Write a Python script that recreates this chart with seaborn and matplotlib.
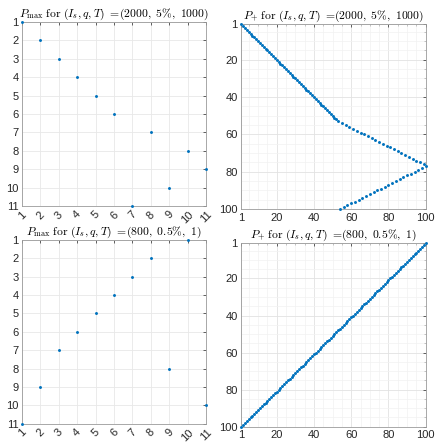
import numpy as np
import pandas as pd
import matplotlib
matplotlib.use("Agg")
import matplotlib.pyplot as plt
from matplotlib.ticker import MultipleLocator, FixedLocator
import seaborn as sns

# ---------------- data ----------------
small_idx = [1, 2, 3, 4, 5, 6, 7, 8, 9, 10, 11]
pmax_a = [1, 2, 3, 4, 5, 6, 11, 7, 10, 8, 9]       # (2000, 5%, 1000)
pmax_b = [11, 9, 7, 6, 5, 4, 3, 2, 8, 1, 10]       # (800, 0.5%, 1)

big_rows = [1, 2, 3, 4, 5, 6, 7, 8, 9, 10, 11, 12, 13, 14, 15, 16, 17, 18, 19, 20,
            21, 22, 23, 24, 25, 26, 27, 28, 29, 30, 31, 32, 33, 34, 35, 36, 37, 38, 39, 40,
            41, 42, 43, 44, 45, 46, 47, 48, 49, 50, 51, 52, 53, 54, 55, 56, 57, 58, 59, 60,
            61, 62, 63, 64, 65, 66, 67, 68, 69, 70, 71, 72, 73, 74, 75, 76, 77, 78, 79, 80,
            81, 82, 83, 84, 85, 86, 87, 88, 89, 90, 91, 92, 93, 94, 95, 96, 97, 98, 99, 100]
pplus_a = [1, 2, 3, 4, 5, 6, 7, 8, 9, 10, 11, 12, 13, 14, 15, 16, 17, 18, 19, 20,
           21, 22, 23, 24, 25, 26, 27, 28, 29, 30, 31, 32, 33, 34, 35, 36, 37, 38, 39, 40,
           41, 42, 43, 44, 45, 46, 47, 48, 49, 50, 51, 52, 53,
           55, 57, 59, 61, 63, 65, 67, 69, 71, 73, 75, 77, 79, 81, 83, 85, 87, 89, 91, 93,
           95, 97, 99, 100,
           98, 96, 94, 92, 90, 88, 86, 84, 82, 80, 78, 76, 74, 72, 70, 68, 66, 64, 62, 60,
           58, 56, 54]
pplus_b = [100, 99, 98, 97, 96, 95, 94, 93, 92, 91, 90, 89, 88, 87, 86, 85, 84, 83, 82, 81,
           80, 79, 78, 77, 76, 75, 74, 73, 72, 71, 70, 69, 68, 67, 66, 65, 64, 63, 62, 61,
           60, 59, 58, 57, 56, 55, 54, 53, 52, 51, 50, 49, 48, 47, 46, 45, 44, 43, 42, 41,
           40, 39, 38, 37, 36, 35, 34, 33, 32, 31, 30, 29, 28, 27, 26, 25, 24, 23, 22, 21,
           20, 19, 18, 17, 16, 15, 14, 13, 12, 11, 10, 9, 8, 7, 6, 5, 4, 3, 2, 1]

small_ticks = [1, 2, 3, 4, 5, 6, 7, 8, 9, 10, 11]
big_ticks = [1, 20, 40, 60, 80, 100]

titles = [r"$P_{\max}\ \mathrm{for}\ (I_s,q,T)\ =\!(2000,\ 5\%,\ 1000)$",
          r"$P_{+}\ \mathrm{for}\ (I_s,q,T)\ =\!(2000,\ 5\%,\ 1000)$",
          r"$P_{\max}\ \mathrm{for}\ (I_s,q,T)\ =\!(800,\ 0.5\%,\ 1)$",
          r"$P_{+}\ \mathrm{for}\ (I_s,q,T)\ =\!(800,\ 0.5\%,\ 1)$"]

# ---------------- style ----------------
sns.set_style("white")
plt.rcParams['font.family'] = ['Liberation Sans', 'DejaVu Sans']
plt.rcParams['mathtext.fontset'] = 'cm'

BLUE = "#0072BD"
SPINE = "#9a9a9a"

fig = plt.figure(figsize=(4.36, 4.42), dpi=100)
positions = [
    [0.0505, 0.534, 0.422, 0.416],
    [0.5534, 0.527, 0.423, 0.418],
    [0.0505, 0.0414, 0.422, 0.4156],
    [0.5534, 0.0346, 0.423, 0.415],
]

datasets = [
    (small_idx, pmax_a, 'small'),
    (pplus_a, big_rows, 'big'),
    (small_idx, pmax_b, 'small'),
    (pplus_b, big_rows, 'big'),
]

for pos, (xs, ys, kind), title in zip(positions, datasets, titles):
    ax = fig.add_axes(pos)
    df = pd.DataFrame({"x": xs, "y": ys})
    sns.scatterplot(data=df, x="x", y="y", ax=ax, color=BLUE, s=4.5,
                    marker='o', linewidth=0, clip_on=False, zorder=3)
    ax.set_xlabel("")
    ax.set_ylabel("")
    if kind == 'small':
        ax.set_xlim(1, 11)
        ax.set_ylim(11, 1)
        ax.xaxis.set_major_locator(FixedLocator(small_ticks))
        ax.yaxis.set_major_locator(FixedLocator(small_ticks))
        ax.set_xticklabels([str(t) for t in small_ticks], rotation=45, ha='center')
        ax.set_yticklabels([str(t) for t in small_ticks])
        ax.grid(True, which='major', color='#e8e8e8', linewidth=0.6)
    else:
        ax.set_xlim(1, 100)
        ax.set_ylim(100, 1)
        ax.xaxis.set_major_locator(FixedLocator(big_ticks))
        ax.yaxis.set_major_locator(FixedLocator(big_ticks))
        ax.xaxis.set_minor_locator(MultipleLocator(5))
        ax.yaxis.set_minor_locator(MultipleLocator(5))
        ax.set_xticklabels([str(t) for t in big_ticks])
        ax.set_yticklabels([str(t) for t in big_ticks])
        ax.grid(True, which='major', color='#e2e2e2', linewidth=0.6)
        ax.grid(True, which='minor', color='#f2f2f2', linewidth=0.5)
    ax.set_axisbelow(True)
    ax.tick_params(which='major', direction='in', length=2.5, width=0.5,
                   colors='#262626', labelsize=8, pad=2.5,
                   top=True, right=True, labelcolor='#262626')
    ax.tick_params(which='minor', direction='in', length=1.3, width=0.4,
                   top=True, right=True, color=SPINE)
    for sp in ax.spines.values():
        sp.set_color(SPINE)
        sp.set_linewidth(0.6)
    ax.set_title(title, fontsize=8.4, pad=4, color='#000000')

fig.savefig("out.png", dpi=100)
